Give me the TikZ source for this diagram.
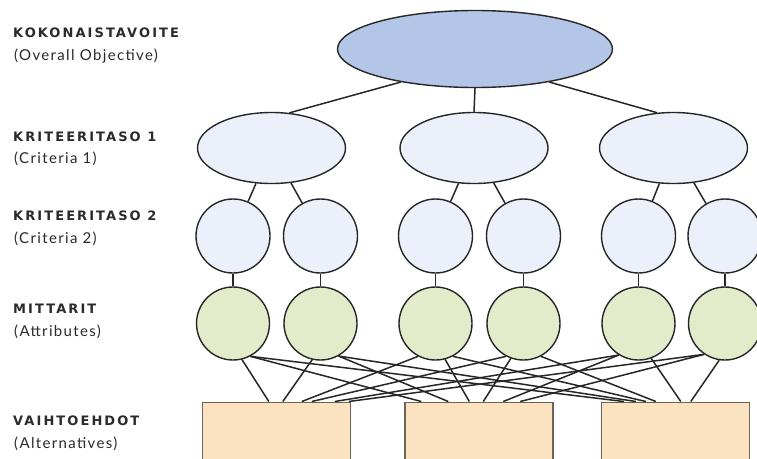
\documentclass[tikz,border=0pt]{standalone}
\usepackage{fontspec}
\setmainfont{Lato}
\newfontfamily\hdfont{DejaVu Sans}[LetterSpace=16]
\newfontfamily\subfont{Lato}[LetterSpace=9]
\usetikzlibrary{shapes.geometric}
\definecolor{topfill}{HTML}{B4C6E7}
\definecolor{critfill}{HTML}{ECF0FA}
\definecolor{attrfill}{HTML}{E2ECCB}
\definecolor{altfill}{HTML}{FBE3C1}
\definecolor{linecol}{HTML}{262626}
\definecolor{altline}{HTML}{6E6258}
\definecolor{txtcol}{HTML}{2A2A2A}
\begin{document}
\begin{tikzpicture}[x=1pt,y=-1pt,
  ell/.style={ellipse, draw=linecol, line width=1.4pt, inner sep=0pt},
  topell/.style={ell, fill=topfill, minimum width=275pt, minimum height=77pt},
  critell/.style={ell, fill=critfill, minimum width=148pt, minimum height=71pt},
  critcirc/.style={circle, draw=linecol, line width=1.4pt, inner sep=0pt, fill=critfill, minimum size=74pt},
  attrcirc/.style={circle, draw=linecol, line width=1.4pt, inner sep=0pt, fill=attrfill, minimum size=73pt},
  altbox/.style={rectangle, draw=altline, line width=1.4pt, fill=altfill, inner sep=0pt, minimum width=148pt, minimum height=80pt, anchor=north},
  conn/.style={draw=linecol, line width=1.5pt},
  hd/.style={anchor=base west, inner sep=0pt, text=txtcol, font=\hdfont\bfseries\fontsize{13}{15}\selectfont},
  sub/.style={anchor=base west, inner sep=0pt, text=txtcol, font=\subfont\fontsize{15}{18}\selectfont}
]
\useasboundingbox (0,0) rectangle (757,458);

% labels
\node[hd] (h1) at (13,37.3) {KOKONAISTAVOITE};
\node[sub] (s1) at (14,60) {(Overall Objective)};
\node[hd] (h2) at (13,141.5) {KRITEERITASO 1};
\node[sub] (s2) at (14,163) {(Criteria 1)};
\node[hd] (h3) at (13,220) {KRITEERITASO 2};
\node[sub] (s3) at (14,243) {(Criteria 2)};
\node[hd] (h4) at (13,313) {MITTARIT};
\node[sub] (s4) at (14,336) {(Attributes)};
\node[hd] (h5) at (13,425.5) {VAIHTOEHDOT};
\node[sub] (s5) at (14,448) {(Alternatives)};

% nodes
\node[topell] (top) at (475,49) {};
\node[critell] (k1) at (271.5,148) {};
\node[critell] (k2) at (474,148) {};
\node[critell] (k3) at (673.5,148) {};
\foreach \n/\x in {1/233,2/320.5,3/435.5,4/523.5,5/638.5,6/725}{
  \node[critcirc] (b\n) at (\x,236) {};
  \node[attrcirc] (c\n) at (\x,323.5) {};
}
\node[altbox] (d1) at (276.5,401.5) {};
\node[altbox] (d2) at (479,401.5) {};
\node[altbox] (d3) at (675.5,401.5) {};

% connectors
\path[conn] (top.204) -- (k1.63);
\path[conn] (top.south) -- (k2.north);
\path[conn] (top.336) -- (k3.115);
\path[conn] (k1) -- (b1);
\path[conn] (k1) -- (b2);
\path[conn] (k2) -- (b3);
\path[conn] (k2) -- (b4);
\path[conn] (k3) -- (b5);
\path[conn] (k3) -- (b6);
\foreach \n in {1,...,6}{\path[conn] (b\n) -- (c\n);}

% attributes -> alternatives
\path[conn] (c1.-76) -- ([xshift=67pt]d1.north west);
\path[conn] (c1.-62) -- ([xshift=17pt]d2.north west);
\path[conn] (c1.-62) -- ([xshift=23pt]d3.north west);
\path[conn] (c2.-103) -- ([xshift=81pt]d1.north west);
\path[conn] (c2.-61) -- ([xshift=44pt]d2.north west);
\path[conn] (c2.-61) -- ([xshift=35pt]d3.north west);
\path[conn] (c3.-118) -- ([xshift=100pt]d1.north west);
\path[conn] (c3.-75) -- ([xshift=65pt]d2.north west);
\path[conn] (c3.-62) -- ([xshift=45pt]d3.north west);
\path[conn] (c4.-118) -- ([xshift=110pt]d1.north west);
\path[conn] (c4.-110) -- ([xshift=79pt]d2.north west);
\path[conn] (c4.-62) -- ([xshift=55pt]d3.north west);
\path[conn] (c5.-122) -- ([xshift=133pt]d1.north west);
\path[conn] (c5.-122) -- ([xshift=99pt]d2.north west);
\path[conn] (c5.-70) -- ([xshift=80pt]d3.north west);
\path[conn] (c6.-124) -- ([xshift=147pt]d1.north west);
\path[conn] (c6.-124) -- ([xshift=116pt]d2.north west);
\path[conn] (c6.-99) -- ([xshift=90pt]d3.north west);
\end{tikzpicture}
\end{document}
